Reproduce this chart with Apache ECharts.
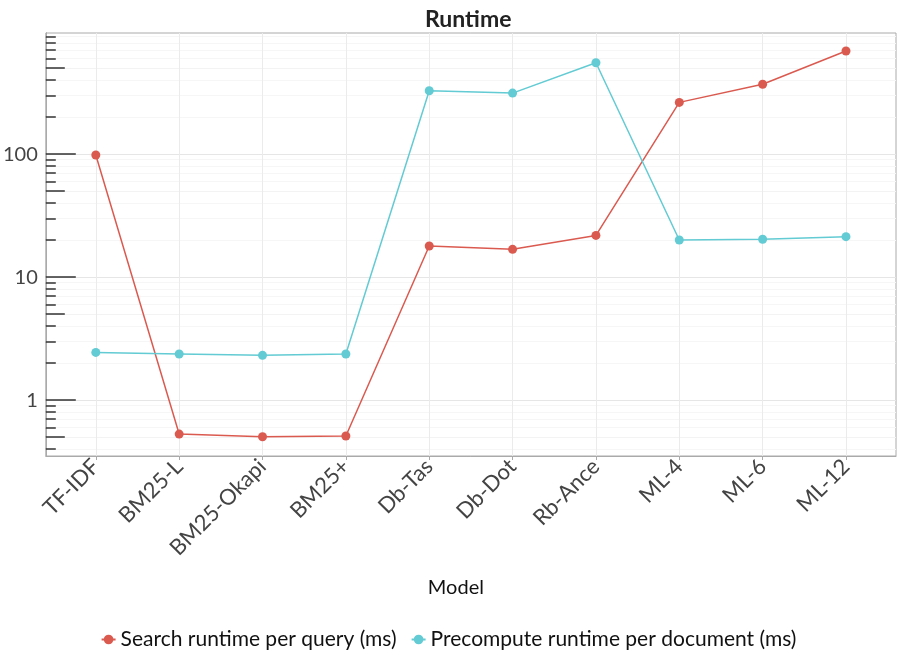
<!DOCTYPE html>
<html><head><meta charset="utf-8">
<script src="https://cdn.jsdelivr.net/npm/echarts@6/dist/echarts.min.js"></script>
<style>html,body{margin:0;padding:0;background:#fff}#c{width:897px;height:651px}</style>
</head><body><div id="c"></div>
<script>
const categories = ["TF-IDF","BM25-L","BM25-Okapi","BM25+","Db-Tas","Db-Dot","Rb-Ance","ML-4","ML-6","ML-12"];
const searchRuntime = [98.2, 0.529, 0.503, 0.510, 17.9, 16.8, 21.8, 263, 369, 688];
const precomputeRuntime = [2.44, 2.37, 2.31, 2.37, 327, 313, 552, 20.0, 20.3, 21.3];
const majorTicks = [1, 10, 100];
const midTicks = [0.5, 5, 50, 500];
const minorTicks = [0.4,0.6,0.7,0.8,0.9,2,3,4,6,7,8,9,20,30,40,60,70,80,90,200,300,400,600,700,800,900];
const yMin = 0.351, yMax = 964;

const chart = echarts.init(document.getElementById('c'));
const font = 'Lato, "Open Sans", sans-serif';
function ylog(ticks, len, showLabel, splitColor) {
  return {
    type: 'log', logBase: 10, min: yMin, max: yMax, gridIndex: 0, position: 'left',
    axisLine: {show: true, onZero: false, lineStyle: {color: '#aaa', width: 1}},
    axisTick: {show: true, inside: true, length: len, customValues: ticks, lineStyle: {color: '#333', width: 1.5}},
    axisLabel: {show: showLabel, customValues: ticks, fontSize: 20, color: '#444', fontFamily: font, margin: 8,
      formatter: v => String(v)},
    splitLine: {show: true, lineStyle: {color: splitColor, width: 1}},
    minorTick: {show: false}, minorSplitLine: {show: false}
  };
}
const catIdx = categories.map((c, i) => i);
chart.setOption({
  animation: false,
  title: {text: 'Runtime', left: 420, top: 3,
    textStyle: {fontFamily: font, fontWeight: 'bold', fontSize: 23, color: '#222'}},
  grid: {left: 43, right: 1, top: 33, bottom: 195, show: true, borderColor: '#aaa', borderWidth: 1, containLabel: false},
  xAxis: {
    type: 'value', min: -0.6, max: 9.6,
    name: 'Model', nameLocation: 'middle', nameGap: 122,
    nameTextStyle: {fontFamily: font, fontSize: 20, color: '#111', padding: [0, 30, 0, 0]},
    axisLine: {show: true, onZero: false, lineStyle: {color: '#aaa'}},
    axisTick: {show: true, customValues: catIdx, length: 4, lineStyle: {color: '#aaa'}},
    axisLabel: {customValues: catIdx, rotate: 45, fontSize: 22, color: '#444', fontFamily: font, margin: 7,
      formatter: v => categories[Math.round(v)]},
    splitLine: {show: true, lineStyle: {color: '#ebebeb'}}
  },
  yAxis: [
    ylog(minorTicks, 10, false, '#f6f6f6'),
    ylog(midTicks, 19, false, '#f3f3f3'),
    ylog(majorTicks, 30, true, '#e6e6e6')
  ],
  legend: {
    top: 624, left: 'center', itemGap: 14, itemWidth: 14, itemHeight: 12,
    textStyle: {fontFamily: font, fontSize: 21, color: '#111'},
    data: ['Search runtime per query (ms)', 'Precompute runtime per document (ms)']
  },
  series: [
    {name: 'Search runtime per query (ms)', type: 'line', yAxisIndex: 2,
     data: searchRuntime.map((v, i) => [i, v]),
     symbol: 'circle', symbolSize: 9, color: '#db5a50', lineStyle: {width: 1.5}, z: 3},
    {name: 'Precompute runtime per document (ms)', type: 'line', yAxisIndex: 2,
     data: precomputeRuntime.map((v, i) => [i, v]),
     symbol: 'circle', symbolSize: 9, color: '#62cbd3', lineStyle: {width: 1.5}, z: 3}
  ]
});
</script></body></html>
